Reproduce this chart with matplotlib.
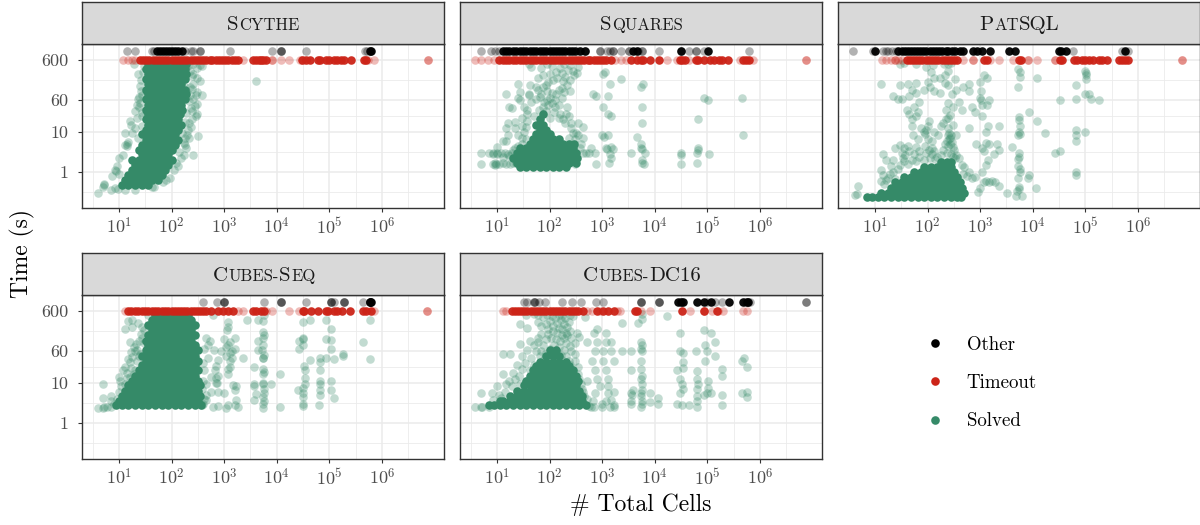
import numpy as np
import matplotlib
matplotlib.use('Agg')
import matplotlib.pyplot as plt
from matplotlib.lines import Line2D

plt.rcParams['font.family'] = ['cmr10', 'DejaVu Serif']
plt.rcParams['mathtext.fontset'] = 'cm'
plt.rcParams['axes.unicode_minus'] = False
plt.rcParams['axes.formatter.use_mathtext'] = True

# y levels where the two censored groups sit
timeout_level = 600
other_level = 1000

x_breaks = [10, 100, 1000, 10000, 100000, 1000000]
x_labels = ['$10^{1}$', '$10^{2}$', '$10^{3}$', '$10^{4}$', '$10^{5}$', '$10^{6}$']
y_breaks = [1, 10, 60, 600]
y_labels = ['1', '10', '60', '600']

# solved runs: "core" is the overplotted solid part, one list of cell counts per time row
scythe_core_t = [480, 360, 270, 200, 150, 110, 85, 63, 47, 35, 27, 20, 15, 11, 8.5, 6.3, 4.7, 3.5, 2.7, 2, 1.5, 1.1, 0.85, 0.63, 0.47]
scythe_core = [
    [36, 49, 65, 87, 115, 154, 190], [32, 42, 56, 75, 100, 133, 178], [36, 49, 65, 87, 115, 154, 190],
    [32, 42, 56, 75, 100, 133, 178], [36, 49, 65, 87, 115, 154], [32, 42, 56, 75, 100, 133, 178],
    [36, 49, 65, 87, 115, 154, 190], [32, 42, 56, 75, 100, 133, 178], [36, 49, 65, 87, 115, 154],
    [32, 42, 56, 75, 100, 133, 160], [36, 49, 65, 87, 115, 145], [32, 42, 56, 75, 100, 133],
    [36, 49, 65, 87, 115, 154], [32, 42, 56, 75, 100, 133], [27, 36, 49, 65, 87, 115],
    [32, 42, 56, 75, 100, 133], [27, 36, 49, 65, 87, 115], [24, 32, 42, 56, 75, 100],
    [27, 36, 49, 65, 87], [18, 24, 32, 42, 56, 75, 100], [20, 27, 36, 49, 65, 87],
    [18, 24, 32, 42, 56, 75], [15, 20, 27, 36, 49, 65], [13, 18, 24, 32, 42, 56],
    [11.5, 15, 20, 27, 36],
]
# the loose points, (cells, seconds)
scythe_pts = [
    (4, .29), (5, .43), (5.3, .47), (5.2, .5), (7, .36), (7.3, .77), (8.5, .39), (8.5, 1.1), (8.8, 1.05), (9, 1.4), (9.5, .38), (10, .9), (10, 2.2),
    (12, 2.6), (13, .35), (13, 4.7), (13, 9.3), (14, 4.3), (14, 4.8), (15, 5.6), (16, 18), (17, 15), (18, 9), (19, 470), (20, .35), (20, 32), (20, 12),
    (22, 22), (23, 7), (23, 63), (23, 270), (24, 40), (25, 136), (26, 190), (27, 83), (27, 30), (28, 14), (29, 300), (30, 420), (25, 52), (26, 105),
    (24, 72), (22, 45), (28, 24), (42, .43), (46, .42), (70, .57), (80, .62), (95, .69), (110, 1.1), (120, 1.7), (135, 1.4), (150, 2.2), (140, 3.1),
    (175, 2.6), (180, 4.6), (170, 5.2), (190, 3.9), (200, 8), (180, 6.8), (215, 7), (205, 11), (230, 13), (215, 16), (180, 17), (260, 2.6), (325, 7.6),
    (240, 20), (290, 24), (300, 28), (250, 32), (280, 43), (300, 48), (230, 38), (190, 29), (210, 58), (260, 66), (225, 80), (290, 83), (375, 83),
    (300, 96), (245, 115), (220, 130), (260, 150), (350, 180), (300, 210), (240, 235), (260, 270), (220, 320), (375, 430), (340, 440), (300, 380),
    (260, 470), (210, 450), (180, 125), (190, 380), (175, 70), (170, 240), (155, 9), (190, 100), (4000, 180),
]

squares_core_t = [1.35, 1.7, 2.2, 2.9, 3.8, 5, 6.5, 8.5, 11, 15, 20, 27]
squares_core = [
    [27, 36, 49, 65, 87, 115, 154, 205], [24, 32, 42, 56, 75, 100, 133, 178, 237, 316],
    [20, 27, 36, 49, 65, 87, 115, 154, 205, 274, 330], [24, 32, 42, 56, 75, 100, 133, 178, 237, 316],
    [27, 36, 49, 65, 87, 115, 154, 205, 274], [42, 56, 75, 100, 133, 178, 237, 290],
    [49, 65, 87, 115, 154], [56, 75, 100], [65, 87], [56, 75], [65], [75],
]
squares_pts = [
    (5, 1.6), (5, 2.9), (7, 2.9), (8.5, 1.6), (9, 1.5), (9, 1.7), (9.5, 1.55), (11, 1.6), (13, 1.65), (15, 1.6), (18, 1.55), (20, 1.7), (23, 1.7),
    (8.5, 3), (8.5, 2.8), (10, 3), (10, 2.7), (12, 2.9), (14, 2.9), (16, 2.8), (19, 3), (10, 4.1), (13, 2.4), (17, 2.5), (20, 3.4), (22, 4), (25, 4.5), (30, 5),
    (15, 6), (13, 6), (16, 8), (25, 8), (30, 7), (36, 6.5), (33, 10), (15, 12), (22, 12), (30, 14), (16, 16), (22, 17), (37, 27), (30, 22), (35, 13), (38, 18),
    (17, 40), (19, 39), (32, 40), (38, 35), (25, 70), (27, 60), (45, 55), (55, 65), (40, 80), (15, 85), (27, 95), (40, 85), (70, 85), (25, 150), (42, 140),
    (55, 130), (50, 25), (62, 35), (100, 22), (120, 30), (150, 22), (125, 40), (85, 32), (95, 45), (110, 52), (75, 40), (90, 60), (65, 72), (80, 55), (100, 68),
    (125, 62), (150, 45), (170, 70), (210, 40), (160, 28), (205, 27), (180, 20), (230, 25), (200, 16), (260, 12), (280, 9), (340, 16), (260, 16), (430, 13),
    (230, 7), (320, 9), (350, 8), (430, 7), (300, 6.5), (400, 5), (380, 4), (500, 2.9), (440, 3), (730, 2.9), (780, 1.6), (620, 4), (560, 3), (300, 1.6),
    (90, 100), (110, 90), (130, 85), (150, 110), (170, 120), (190, 95), (210, 140), (250, 100), (60, 110), (75, 125), (85, 145), (95, 170), (115, 190), (140, 210),
    (180, 180), (200, 230), (250, 190), (290, 250), (60, 220), (75, 250), (100, 270), (130, 310), (170, 290), (220, 340), (280, 320), (330, 280), (45, 400), (70, 380),
    (110, 430), (160, 390), (250, 440), (340, 400), (40, 480), (90, 490), (190, 480),
    (1000, 8.2), (1100, 7.5), (1300, 8), (1050, 40), (1300, 27), (1500, 25), (680, 85), (780, 75), (1300, 75), (1400, 150), (1050, 270), (1150, 300), (2300, 200),
    (1200, 4), (1250, 3.6), (1500, 4.2), (1340, 1.65), (1500, 2.2), (1400, 2.7), (1600, 3.6), (3600, 2.9), (4500, 7.5), (5500, 4), (5500, 5), (5800, 3.6), (6400, 2.9),
    (5600, 1.7), (5600, 2), (6300, 1.6), (5600, 16), (5700, 40), (5500, 130), (6000, 150), (31000, 2.9), (31000, 1.6), (31000, 2.6), (63000, 2.9), (65000, 3.9),
    (65000, 3.4), (63000, 1.7), (106000, 2.7), (65000, 21), (88000, 68), (105000, 60), (460000, 70), (480000, 8),
]

patsql_core_t = [0.23, 0.3, 0.4, 0.55, 0.75, 1, 1.35, 1.8]
patsql_core = [
    [7, 8.7, 11.5, 15, 20, 27, 36, 49, 65, 87, 115, 154, 205, 274, 365, 440],
    [13, 18, 24, 32, 42, 56, 75, 100, 133, 178, 237, 316, 422, 500],
    [20, 27, 36, 49, 65, 87, 115, 154, 205, 274, 365, 460],
    [24, 32, 42, 56, 75, 100, 133, 178, 237, 316, 422],
    [36, 49, 65, 87, 115, 154, 205, 274, 365],
    [56, 75, 100, 133, 178, 237, 316],
    [87, 115, 154, 205, 274],
    [178, 237, 280],
]
patsql_pts = [
    (4.2, .27), (4.7, .45), (4.5, .28), (15, .5), (13, .6), (14, .85), (13, 1.1), (16, .62), (18, .7), (19, .9), (22, 1), (24, .65), (20, 1.4), (16, 2), (22, 2), (14, 2.8),
    (27, 1.2), (30, 1.5), (35, 1.9), (34, 2.2), (42, 1.6), (38, 2.6), (50, 2), (60, 1.9), (70, 2.3), (85, 2), (32, 2.9), (24, 3.8), (35, 3.9), (45, 3.3), (55, 2.8), (70, 3.3), (95, 2.9),
    (120, 2.7), (105, 3.5), (130, 3.2), (150, 2.4), (180, 2.6), (140, 2.1), (110, 2.2), (30, 4.6), (42, 4.4), (60, 4.1), (90, 4.3), (120, 4), (200, 3.5), (230, 3), (280, 2.8), (320, 3.4),
    (300, 2.4), (250, 4.3), (270, 5), (290, 5.5), (260, 6.5), (230, 6), (210, 5), (300, 4.2), (330, 2.2), (350, 2.6), (400, 2.2), (450, 1.5), (500, 1.3), (560, .8), (480, .9),
    (240, 8), (260, 9), (280, 8), (250, 12), (270, 7), (100, 6.5), (90, 8.5), (95, 11), (100, 14), (105, 18), (85, 10), (75, 12), (65, 6.5), (52, 8), (50, 14), (120, 6), (130, 10), (160, 8),
    (180, 14), (200, 16), (225, 20), (250, 22), (270, 26), (300, 15), (340, 8), (620, 12), (620, 1), (700, .7), (800, .75), (900, .32), (1000, .4), (1200, .55), (1100, 1), (1300, .6), (1500, .55),
    (1700, .6), (1900, .55), (1300, 1.5), (1400, 2), (1100, 4), (1200, 3.3), (1500, 5), (2100, 5), (2300, 3.5), (850, 5), (1300, 5.2), (1800, 2.7),
    (3300, .29), (2300, .45), (4100, 4.2), (4800, .25), (5000, .33), (5400, .37), (5500, .42), (5300, .7), (5600, 1), (5700, 1.2), (5300, 1.4), (5200, 2.1), (5400, 2.4), (5400, 2.9),
    (5200, 8), (5400, 10), (5600, 8.6), (5400, 19), (5400, 23), (5600, 14), (8000, .7), (6200, .25), (11500, .4), (8500, .85), (12000, 18), (17000, 9), (8500, 30),
    (26000, 3), (33000, 3.3), (65000, 1), (65000, .85), (65000, 6), (65000, 8), (65000, 11), (100000, 10), (33000, 60), (65000, 65), (100000, 85), (115000, 85), (180000, 60), (130000, 65),
    (12000, 210), (5700, 300), (5200, 360), (5600, 230), (5300, 130), (65000, 140), (100000, 330), (105000, 250), (102000, 200), (105000, 280),
    (13, 150), (28, 65), (32, 65), (22, 75), (30, 140), (42, 150), (50, 110), (60, 160), (45, 75), (70, 55), (55, 42), (45, 28), (40, 35), (60, 25), (50, 20), (65, 30), (60, 90),
    (85, 110), (110, 130), (130, 100), (170, 90), (215, 160), (250, 140), (290, 85), (340, 110), (100, 170), (130, 210), (175, 220), (210, 260), (240, 320), (115, 300), (95, 400), (60, 480),
    (30, 480), (35, 510), (125, 460), (205, 480), (240, 470), (280, 500), (330, 200), (480, 130), (620, 150), (1000, 170), (1200, 250), (1350, 220), (1050, 100), (620, 100), (1000, 70),
    (1050, 60), (1100, 45), (800, 30), (1100, 25), (1350, 45), (1500, 60), (1300, 10), (1400, 14), (2300, 14), (700, 40), (450, 35), (400, 55), (300, 40), (220, 35), (240, 50),
]

seq_core_t = [480, 360, 270, 200, 150, 110, 85, 63, 47, 35, 27, 20, 15, 11, 8.5, 6.3, 4.7, 3.5, 2.7]
seq_core = [
    [49, 65, 87, 115, 154, 205], [42, 56, 75, 100, 133, 178, 237], [36, 49, 65, 87, 115, 154, 205, 274],
    [42, 56, 75, 100, 133, 178, 237], [36, 49, 65, 87, 115, 154, 205, 274], [32, 42, 56, 75, 100, 133, 178, 237],
    [36, 49, 65, 87, 115, 154, 205, 274], [32, 42, 56, 75, 100, 133, 178, 237, 316],
    [27, 36, 49, 65, 87, 115, 154, 205, 274], [32, 42, 56, 75, 100, 133, 178, 237, 316],
    [27, 36, 49, 65, 87, 115, 154, 205, 274], [24, 32, 42, 56, 75, 100, 133, 178, 237, 316],
    [20, 27, 36, 49, 65, 87, 115, 154, 205, 274], [18, 24, 32, 42, 56, 75, 100, 133, 178, 237, 316],
    [15, 20, 27, 36, 49, 65, 87, 115, 154, 205, 274, 340], [13, 18, 24, 32, 42, 56, 75, 100, 133, 178, 237, 316],
    [11.5, 15, 20, 27, 36, 49, 65, 87, 115, 154, 205, 274, 350], [10, 13, 18, 24, 32, 42, 56, 75, 100, 133, 178, 237, 316],
    [8.7, 11.5, 15, 20, 27, 36, 49, 65, 87, 115, 154, 205, 274, 365],
]
seq_pts = [
    (4, 2.4), (5, 2.4), (5.3, 2.5), (6, 2.5), (7, 2.5), (5, 4.2), (7, 3.4), (7.2, 4.6), (8, 3), (9, 4), (5, 9), (10, 14), (10.5, 11), (13, 9), (10, 6), (11, 8), (14, 13), (12, 20), (13, 24),
    (14, 17), (16, 14), (17, 23), (19, 16), (20, 21), (22, 34), (24, 46), (16, 32), (15, 38), (18, 44), (20, 60), (19, 75), (17, 58), (21, 90), (24, 110), (16, 105), (13, 210), (18, 235), (15, 340),
    (18, 370), (23, 300), (28, 240), (30, 200), (35, 480), (26, 160), (22, 66), (28, 130), (25, 52), (30, 95),
    (385, 2.7), (394, 3), (420, 4), (450, 3.6), (620, 2.5), (760, 2.6), (1100, 2.4), (1170, 2.7), (1600, 2.8), (1800, 2.5), (1700, 3.6), (450, 5), (380, 7), (570, 6), (770, 5.8), (1000, 5.4), (1600, 6.4),
    (450, 9), (400, 11), (700, 9.5), (720, 10), (1460, 8.5), (1700, 8.2), (570, 14), (700, 13), (760, 15), (1170, 16), (1200, 22), (680, 20), (700, 26), (420, 20), (390, 30), (500, 42), (760, 36), (1270, 25),
    (1300, 34), (1100, 46), (1400, 42), (2300, 40), (880, 60), (640, 66), (1270, 56), (1600, 70), (1100, 75), (500, 85), (410, 70), (530, 110), (450, 130), (1000, 118), (1300, 105), (1600, 125), (1170, 88), (1400, 62),
    (1170, 330), (1200, 240), (1150, 200), (610, 480), (2700, 360),
    (3700, 3.6), (4000, 5.2), (3700, 9), (3700, 8), (5400, 2.4), (5500, 2.9), (5700, 3.4), (5400, 4.4), (5600, 5.5), (5700, 7), (5400, 9), (5500, 10), (7800, 9), (5400, 16), (5600, 18), (11700, 16), (11700, 2.5),
    (3700, 25), (5500, 22), (5500, 42), (5400, 40), (5700, 48), (4400, 65), (5300, 63), (5400, 85), (4400, 110), (5500, 125), (5600, 150), (5500, 185), (5400, 340), (4400, 350), (5700, 480),
    (25000, 6.4), (31000, 2.6), (31000, 3), (31000, 4.3), (31000, 5.4), (31000, 7.5), (34000, 9), (34000, 13), (34000, 20), (33000, 26), (42000, 36), (27000, 70), (31000, 85), (27000, 110), (31000, 120), (31000, 130),
    (31000, 330), (42000, 370), (63000, 2.7), (65000, 5), (65000, 6.5), (65000, 9), (65000, 11), (65000, 20), (65000, 32), (65000, 42), (88000, 42), (125000, 38), (185000, 45), (185000, 52), (106000, 11),
    (106000, 6.4), (125000, 4.2), (88000, 120), (88000, 360), (106000, 210), (106000, 115), (106000, 70), (430000, 105), (600000, 38), (600000, 370),
]

dc_core_t = [63, 47, 33, 26, 20, 15, 11, 8.5, 6.3, 4.7, 3.5, 2.7]
dc_core = [
    [100, 133], [87, 115, 154], [65, 87, 115, 154, 205], [56, 75, 100, 133, 178, 237], [49, 65, 87, 115, 154, 205, 274],
    [42, 56, 75, 100, 133, 178, 237, 316], [36, 49, 65, 87, 115, 154, 205, 274, 340],
    [32, 42, 56, 75, 100, 133, 178, 237, 316], [24, 32, 42, 49, 65, 87, 115, 154, 205, 274, 365],
    [18, 24, 32, 42, 56, 75, 100, 133, 178, 237, 316, 420], [11.5, 13, 18, 24, 32, 42, 56, 75, 100, 133, 178, 237, 316, 422],
    [7, 8.7, 11.5, 15, 20, 27, 36, 49, 65, 87, 115, 154, 205, 274, 365, 487],
]
dc_pts = [
    (3.9, 2.46), (5, 2.46), (5.2, 2.5), (7, 2.5), (5, 5.5), (8, 5.5), (8.5, 3.6), (10, 8), (11, 5), (12, 4.2), (14, 6), (13, 16), (15, 9), (17, 11), (19, 8), (22, 12), (13, 50), (18, 50), (24, 28), (20, 17),
    (24, 6), (28, 9), (26, 15), (30, 22), (36, 11), (40, 8), (34, 30), (42, 20), (28, 90), (28, 280), (37, 230), (30, 45), (38, 65), (45, 40), (50, 28), (55, 60), (42, 110), (60, 20), (50, 85),
    (65, 45), (70, 60), (80, 38), (60, 100), (75, 85), (85, 55), (95, 42), (100, 70), (110, 50), (120, 85), (130, 60), (135, 40), (150, 75), (165, 48), (175, 36), (190, 65), (205, 45), (230, 35), (250, 28),
    (60, 130), (70, 165), (85, 120), (95, 160), (105, 130), (115, 190), (130, 120), (140, 170), (160, 110), (170, 150), (190, 125), (205, 95), (215, 150), (240, 80), (260, 60), (300, 50), (340, 25), (300, 35),
    (70, 250), (60, 330), (75, 420), (85, 280), (95, 220), (100, 340), (115, 260), (125, 400), (140, 300), (150, 230), (165, 350), (175, 210), (190, 280), (205, 170), (215, 240), (240, 190), (260, 130), (300, 95),
    (330, 170), (370, 135), (280, 440), (230, 320), (200, 400), (60, 470), (90, 480), (150, 470), (170, 440), (110, 450), (240, 480), (480, 430), (35, 490), (50, 500),
    (340, 16), (370, 12), (390, 9), (420, 7), (440, 6), (450, 4.6), (510, 4), (560, 2.6), (620, 2.5), (700, 2.5), (680, 3.4), (1000, 2.5), (1400, 2.5), (1700, 2.5), (1000, 2.9), (1200, 3.5), (1500, 3.6), (1650, 2.8),
    (740, 5.5), (900, 8), (800, 12), (510, 11), (1300, 5.5), (1650, 5.8), (1300, 8), (1300, 12), (1200, 20), (1050, 35), (740, 20), (630, 35), (1650, 35), (740, 60), (1050, 60), (1500, 60), (2400, 60), (510, 100),
    (800, 100), (1200, 100), (1500, 100), (700, 170), (800, 210), (1200, 170), (2400, 300),
    (3600, 2.9), (3600, 3.5), (3700, 4.8), (3600, 5.5), (3900, 6.5), (5500, 2.5), (5600, 2.9), (5800, 3.4), (5500, 4.6), (5500, 5.6), (5800, 6.6), (5700, 9), (5500, 12), (5600, 15), (5500, 22), (3600, 20), (5500, 34),
    (3500, 60), (5800, 62), (5400, 70), (5500, 100), (5600, 85), (4800, 300), (5800, 380), (5700, 500), (8000, 5.5), (8000, 3.3), (11500, 2.9), (11500, 4.2), (17000, 450),
    (26000, 3), (30000, 5.5), (30000, 12), (33000, 9), (34000, 7), (33000, 2.8), (26000, 20), (35000, 23), (35000, 33), (30000, 60), (35000, 55), (30000, 170), (44000, 2.8), (63000, 2.5), (63000, 3.4), (63000, 4.6),
    (63000, 7), (65000, 9), (63000, 12), (63000, 19), (60000, 60), (86000, 4.8), (100000, 5.5), (115000, 5.5), (105000, 7.5), (105000, 11), (90000, 35), (100000, 60), (140000, 45), (140000, 100), (115000, 170), (86000, 200), (90000, 85),
    (190000, 2.8), (190000, 4.8), (190000, 15), (190000, 22), (450000, 5.5), (570000, 4.5), (570000, 6), (450000, 35), (570000, 24), (500000, 42),
]

# timeouts and other failures only have a cell count, y is fixed
scythe_timeout_core = [25, 29, 33, 38, 44, 50, 58, 66, 76, 87, 100, 115, 132, 150, 175, 200, 230, 265, 300, 350, 400, 460, 530, 600, 700, 800, 920, 1050, 1200, 1400, 1600, 1850,
                       3600, 4000, 4500, 5000, 5500, 6200, 30000, 36000, 42000, 60000, 65000, 85000, 100000, 120000, 140000, 170000, 190000, 260000, 450000, 500000]
scythe_timeout = [12, 15, 18, 20, 2300, 8000, 8000, 12000, 17000, 28000, 32000, 550000, 720000, 7600000, 7600000]
scythe_other_core = [52, 60, 68, 78, 90, 103, 118, 135, 158, 600000, 620000]
scythe_other = [14, 20, 42, 46, 180, 230, 260, 350, 350, 1300, 8000, 12000, 12000, 12000, 36000, 470000, 520000]

squares_timeout_core = [11, 13, 15, 17, 20, 23, 27, 31, 36, 42, 48, 56, 65, 75, 87, 100, 115, 132, 150, 175, 200, 230, 265, 300, 350, 400, 460, 530, 600, 700, 800, 920, 1050, 1200, 1500,
                        3600, 4500, 5400, 6000, 8000, 12000, 30000, 33000, 37000, 60000, 67000, 88000, 110000, 135000, 165000, 190000, 250000, 480000, 550000, 620000]
squares_timeout = [3.9, 5, 6.8, 8.9, 1730, 2300, 2900, 17000, 26000, 44000, 420000, 740000, 7400000, 7400000]
squares_other_core = [13.2, 15, 17, 20, 23, 27, 31, 36, 42, 48, 56, 65, 75, 87, 100, 115, 132, 150, 175, 200, 230, 265, 300, 380, 480, 3900, 4500, 31000, 105000]
squares_other = [5, 7.7, 9, 11, 350, 480, 900, 900, 1260, 1400, 1600, 1600, 2300, 3300, 3300, 4800, 5600, 5600, 12000, 31000, 44000, 62000, 62000, 88000, 630000]

patsql_timeout_core = [40, 46, 53, 61, 70, 80, 92, 106, 122, 140, 160, 185, 212, 245, 280, 320, 360, 1160, 1340, 5400, 5900, 33000, 36000, 62000, 68000, 85000, 100000, 115000, 140000, 180000, 205000, 260000, 430000, 500000, 570000, 650000]
patsql_timeout = [13.6, 16, 20, 24, 24, 28, 32, 480, 720, 720, 1560, 2300, 4300, 8000, 8000, 12000, 27000, 27000, 7000000, 7000000]
patsql_other_core = [10.2, 28, 32, 37, 42, 48, 55, 63, 72, 83, 95, 110, 126, 145, 166, 190, 220, 250, 290, 330, 420, 480, 730, 870, 1080, 1560, 3600, 4600, 31000, 35000, 43000, 570000]
patsql_other = [3.9, 9, 14, 16, 18, 21, 25, 58000, 500000, 650000]

seq_timeout_core = [15, 17, 20, 23, 27, 31, 36, 42, 48, 56, 65, 75, 87, 100, 115, 132, 150, 175, 200, 230, 265, 300, 350, 400, 460, 560, 760, 950, 1170, 1460,
                    3500, 4100, 5000, 5700, 31000, 33000, 45000, 62000, 85000, 93000, 120000, 140000, 175000, 250000, 430000, 490000, 620000]
seq_timeout = [13, 1800, 2250, 6300, 8200, 17000, 27000, 720000, 7200000, 7200000]
seq_other_core = [600000, 620000, 600000]
seq_other = [390, 730, 990, 990, 990, 5600, 12000, 12000, 12000, 36000, 106000, 106000, 106000, 125000, 186000, 186000, 186000, 430000]

dc_timeout_core = [19, 22, 25, 29, 33, 38, 44, 50, 58, 66, 76, 87, 100, 115, 132, 150, 175, 200, 230, 265, 300, 350, 440, 800, 1050, 1300, 1650, 4200, 4600, 33000, 85000, 150000]
dc_timeout = [13, 15, 510, 630, 920, 1900, 2200, 5500, 8000, 47000, 85000, 120000, 160000, 200000, 470000, 560000]
dc_other_core = [28000, 31000, 34000, 63000, 85000, 115000, 260000, 470000, 560000, 600000]
dc_other = [32, 37, 50, 50, 53, 62, 83, 170, 270, 400, 770, 1050, 5500, 5500, 5500, 12000, 12000, 12000, 100000, 140000, 190000, 520000, 640000, 7400000, 7400000]

# (text, capital?) pieces, cmr10 has no small caps so they are faked with size
panel_titles = [
    [('S', True), ('CYTHE', False)],
    [('S', True), ('QUARES', False)],
    [('P', True), ('AT', False), ('SQL', True)],
    [('C', True), ('UBES-', False), ('S', True), ('EQ', False)],
    [('C', True), ('UBES-', False), ('DC16', True)],
]
panel_data = [
    (scythe_core_t, scythe_core, scythe_pts, scythe_timeout_core, scythe_timeout, scythe_other_core, scythe_other),
    (squares_core_t, squares_core, squares_pts, squares_timeout_core, squares_timeout, squares_other_core, squares_other),
    (patsql_core_t, patsql_core, patsql_pts, patsql_timeout_core, patsql_timeout, patsql_other_core, patsql_other),
    (seq_core_t, seq_core, seq_pts, seq_timeout_core, seq_timeout, seq_other_core, seq_other),
    (dc_core_t, dc_core, dc_pts, dc_timeout_core, dc_timeout, dc_other_core, dc_other),
]

green = '#358A68'
red = '#CC2418'
black = '#000000'
W, H = 1200, 525
dot = 38


def rows_to_xy(times, rows):
    xs, ys = [], []
    for t, row in zip(times, rows):
        xs.extend(row)
        ys.extend([t] * len(row))
    return xs, ys


def box(fig, left, top, right, bottom):
    return fig.add_axes([left / W, 1 - bottom / H, (right - left) / W, (bottom - top) / H])


def small_caps(ax, pieces, fig):
    renderer = fig.canvas.get_renderer()
    texts, widths = [], []
    for s, cap in pieces:
        t = ax.text(0, 0, s, transform=None, fontsize=15 if cap else 12, color='#1A1A1A', va='baseline', ha='left')
        texts.append(t)
        widths.append(t.get_window_extent(renderer).width)
    bb = ax.get_window_extent(renderer)
    x = bb.x0 + (bb.width - sum(widths)) / 2
    y = bb.y0 + bb.height * 0.33
    for t, w in zip(texts, widths):
        t.set_position((x, y))
        x += w + 0.6


fig = plt.figure(figsize=(12, 5.25), dpi=100)
lefts = [82, 460, 838, 82, 460]
tops = [44, 44, 44, 295, 295]
strip_h = 42

for i, data in enumerate(panel_data):
    left, top = lefts[i], tops[i]
    ax = box(fig, left, top, left + 362, top + 164)
    core_t, core, pts, to_core, to_sparse, ot_core, ot_sparse = data

    ax.set_xscale('log')
    ax.set_yscale('log')
    ax.set_xlim(10 ** 0.297, 10 ** 7.18)
    ax.set_ylim(10 ** -0.9, 10 ** 3.178)

    ax.set_xticks(x_breaks)
    ax.set_xticklabels(x_labels)
    ax.set_yticks(y_breaks)
    ax.set_yticklabels(y_labels if i in (0, 3) else [])
    ax.set_xticks([10 ** (k + 0.5) for k in range(0, 7)], minor=True)
    ax.set_yticks([10 ** -0.5, 10 ** 0.5, np.sqrt(600), np.sqrt(36000)], minor=True)
    ax.tick_params(which='minor', length=0, labelbottom=False, labelleft=False)
    ax.tick_params(which='major', length=3, width=0.8, color='#333333', labelcolor='#4D4D4D', labelsize=13, pad=3)
    ax.tick_params(axis='y', which='major', pad=7)
    if i not in (0, 3):
        ax.tick_params(axis='y', which='major', length=0)
    ax.grid(True, which='major', color='#EBEBEB', lw=1.1)
    ax.grid(True, which='minor', color='#EBEBEB', lw=0.6)
    ax.set_axisbelow(True)
    for sp in ax.spines.values():
        sp.set_color('#333333')
        sp.set_linewidth(1.0)

    x, y = zip(*pts)
    ax.scatter(x, y, s=dot, c=green, alpha=0.3, linewidths=0)
    x, y = rows_to_xy(core_t, core)
    ax.scatter(x, y, s=dot, c=green, alpha=1.0, linewidths=0)

    ax.scatter(to_sparse, [timeout_level] * len(to_sparse), s=dot, c=red, alpha=0.3, linewidths=0)
    ax.scatter(to_core, [timeout_level] * len(to_core), s=dot, c=red, alpha=0.95, linewidths=0)
    ax.scatter(ot_sparse, [other_level] * len(ot_sparse), s=dot, c=black, alpha=0.3, linewidths=0)
    ax.scatter(ot_core, [other_level] * len(ot_core), s=dot, c=black, alpha=0.95, linewidths=0)

    strip = box(fig, left, top - strip_h, left + 362, top)
    strip.set_facecolor('#D9D9D9')
    strip.set_xticks([])
    strip.set_yticks([])
    for sp in strip.spines.values():
        sp.set_color('#333333')
        sp.set_linewidth(1.0)
    small_caps(strip, panel_titles[i], fig)

fig.text(22 / W, 1 - 254 / H, 'Time (s)', rotation=90, fontsize=17, color='black', ha='center', va='center')
fig.text(641 / W, 1 - 505 / H, '# Total Cells', fontsize=17, color='black', ha='center', va='center')

handles = [Line2D([], [], ls='', marker='o', ms=6.2, mew=0, color=c) for c in (black, red, green)]
fig.legend(handles, ['Other', 'Timeout', 'Solved'], loc='center left', bbox_to_anchor=(912 / W, 1 - 383 / H),
           frameon=False, fontsize=13.6, labelspacing=1.08, handletextpad=1.0, handlelength=1.4, borderpad=0, labelcolor='black')

fig.savefig('out.png', dpi=100)
